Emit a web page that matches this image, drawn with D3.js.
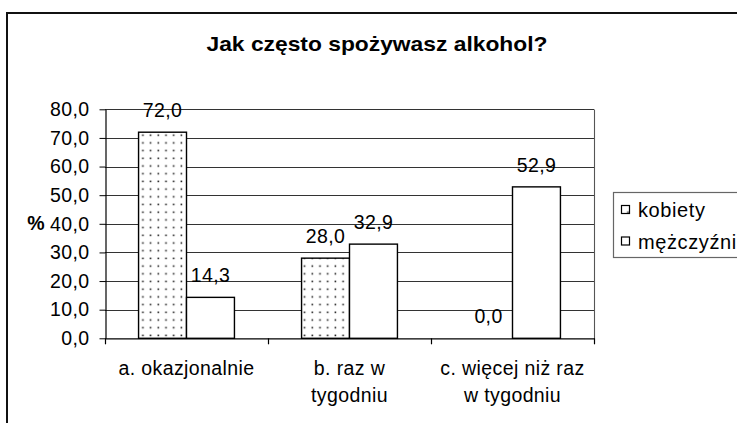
<!DOCTYPE html>
<html><head><meta charset="utf-8">
<script src="https://cdn.jsdelivr.net/npm/d3@7"></script>
<style>
html,body{margin:0;padding:0;background:#fff;overflow:hidden}
svg text{font-family:"Liberation Sans",Arial,sans-serif;fill:#000}
</style></head>
<body><svg id="c" width="737" height="423"></svg>
<script>
const title = "Jak często spożywasz alkohol?";
const categories = [["a. okazjonalnie"], ["b. raz w", "tygodniu"], ["c. więcej niż raz", "w tygodniu"]];
const seriesNames = ["kobiety", "mężczyźni"];
const kobiety = [72.0, 28.0, 0.0];
const mezczyzni = [14.3, 32.9, 52.9];
const yTicks = [0, 10, 20, 30, 40, 50, 60, 70, 80];
const yLabel = "%";

const svg = d3.select("#c");
const L = 105, R = 594, T = 109.3, B = 338.3;
const FS = 19.5;
const fmt = v => d3.format(".1f")(v).replace(".", ",");

// pattern
const defs = svg.append("defs");
const pat = defs.append("pattern").attr("id","dots").attr("patternUnits","userSpaceOnUse")
  .attr("width",7.7).attr("height",7.7).attr("x",2).attr("y",2);
pat.append("rect").attr("width",7.7).attr("height",7.7).attr("fill","#fff");
pat.append("rect").attr("x",1.5).attr("y",1.5).attr("width",1.6).attr("height",1.6).attr("fill","#222");

// outer border
svg.append("rect").attr("x",7).attr("y",13).attr("width",760).attr("height",440)
  .attr("fill","none").attr("stroke","#111").attr("stroke-width",2);

// title
svg.append("text").attr("x",377).attr("y",50.7).attr("text-anchor","middle")
  .attr("font-size",21).attr("font-weight","bold").attr("textLength",341)
  .attr("lengthAdjust","spacingAndGlyphs").text(title);

const y = d3.scaleLinear().domain([0,80]).range([B,T]);
const catIdx = categories.map((d,i)=>i);
const x0 = d3.scaleBand().domain(catIdx).range([L,R]).padding(0);
const bw = x0.bandwidth();
const x1 = d3.scaleBand().domain(seriesNames).range([bw*0.7/3.4, bw*2.7/3.4]).padding(0);

// gridlines
svg.append("g").selectAll("line").data(yTicks.filter(t=>t>0)).join("line")
  .attr("x1",L).attr("x2",R).attr("y1",d=>Math.round(y(d))+0.5).attr("y2",d=>Math.round(y(d))+0.5)
  .attr("stroke","#333").attr("stroke-width",1.1);
// right plot border
svg.append("line").attr("x1",R+0.5).attr("x2",R+0.5).attr("y1",Math.round(T)+0.5).attr("y2",B)
  .attr("stroke","#555").attr("stroke-width",1.1);

// bars
const data = catIdx.map(i => seriesNames.map((s,j)=>({cat:i, s, v:[kobiety,mezczyzni][j][i]})));
const gBars = svg.append("g");
data.forEach(group => {
  group.forEach(d => {
    if (d.v > 0) {
      gBars.append("rect")
        .attr("x", x0(d.cat)+x1(d.s)).attr("width", x1.bandwidth())
        .attr("y", y(d.v)).attr("height", y(0)-y(d.v))
        .attr("fill", d.s==="kobiety" ? "url(#dots)" : "#fff")
        .attr("stroke","#000").attr("stroke-width",1.4);
    }
  });
});
// labels
data.flat().forEach(d => {
  svg.append("text").attr("x", x0(d.cat)+x1(d.s)+x1.bandwidth()/2)
    .attr("y", y(d.v)-15).attr("text-anchor","middle").attr("font-size",FS)
    .attr("letter-spacing","0.02em").text(fmt(d.v));
});

// y axis
const ya = svg.append("g").attr("transform",`translate(${L+0.5},0)`)
  .call(d3.axisLeft(y).tickValues(yTicks).tickFormat(fmt).tickSize(6).tickSizeOuter(0).tickPadding(10));
ya.select(".domain").attr("stroke","#000").attr("stroke-width",1.2);
ya.selectAll(".tick line").attr("stroke","#000");
ya.selectAll("text").attr("font-size",FS).attr("letter-spacing","0.02em").attr("font-family",null);
svg.append("text").attr("x",36).attr("y",230).attr("text-anchor","middle")
  .attr("font-size",FS).attr("font-weight","bold").text(yLabel);

// x axis
const xa = svg.append("g");
xa.append("line").attr("x1",L).attr("x2",R+1).attr("y1",B+0.5).attr("y2",B+0.5).attr("stroke","#000").attr("stroke-width",1.3);
const bounds = catIdx.map(i=>x0(i)).concat([x0(catIdx.length-1)+bw]);
xa.selectAll("line.t").data(bounds).join("line").attr("class","t")
  .attr("x1",d=>Math.round(d)+0.5).attr("x2",d=>Math.round(d)+0.5).attr("y1",B).attr("y2",B+6)
  .attr("stroke","#000").attr("stroke-width",1.2);
categories.forEach((lines,i)=>{
  const t = xa.append("text").attr("text-anchor","middle").attr("font-size",FS).attr("letter-spacing","0.02em");
  lines.forEach((ln,k)=>{
    t.append("tspan").attr("x", x0(i)+bw/2).attr("y", 375 + k*26.5).text(ln);
  });
});

// legend
const lg = svg.append("g");
lg.append("rect").attr("x",613.5).attr("y",192.5).attr("width",200).attr("height",65)
  .attr("fill","#fff").attr("stroke","#666").attr("stroke-width",1.2);
seriesNames.forEach((s,i)=>{
  const cy = 210 + i*31.5;
  lg.append("rect").attr("x",621.5).attr("y",cy-4.5).attr("width",8).attr("height",8)
    .attr("fill", i===0 ? "url(#dots)" : "#fff").attr("stroke","#000").attr("stroke-width",1.2);
  lg.append("text").attr("x",638).attr("y",cy+7).attr("font-size",20)
    .attr("letter-spacing","0.03em").text(s);
});
</script></body></html>
